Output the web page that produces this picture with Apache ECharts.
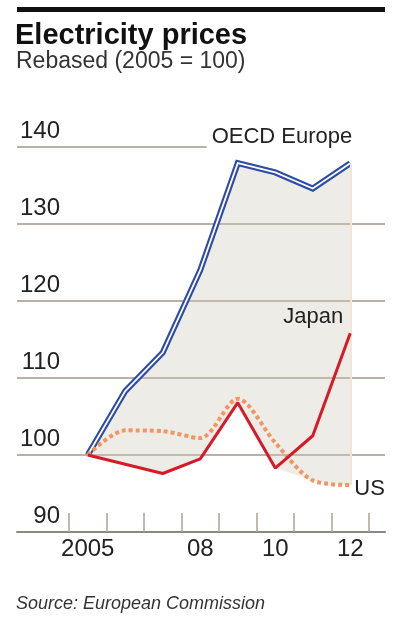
<!DOCTYPE html>
<html>
<head>
<meta charset="utf-8">
<script src="https://cdn.jsdelivr.net/npm/echarts@6/dist/echarts.min.js"></script>
<style>
html,body{margin:0;padding:0;background:#fff;}
#c{width:394px;height:621px;}
</style>
</head>
<body>
<div id="c"></div>
<script>
// ---- data ----
var years = ['2005','2006','2007','2008','2009','2010','2011','2012'];
var yearLabels = ['2005','','','08','','10','','12'];
var oecdEurope = [100, 108.3, 113.3, 124, 137.9, 136.7, 134.6, 137.9];
var japan = [100, 98.8, 97.6, 99.5, 106.8, 98.3, 102.5, 115.8];
var us = [100, 103.2, 103.1, 102.2, 107.3, 101.6, 96.7, 96.1];
var yTicks = [90, 100, 110, 120, 130, 140];

// band between highest and lowest series
var bandLow = years.map(function(_, i){ return Math.min(japan[i], us[i], oecdEurope[i]); });
var bandSpan = years.map(function(_, i){ return oecdEurope[i] - bandLow[i]; });

var FONT = 'Liberation Sans';
var chart = echarts.init(document.getElementById('c'), null, {renderer:'canvas'});
chart.setOption({
  animation: false,
  backgroundColor: '#fff',
  textStyle: {fontFamily: FONT},
  graphic: [{type:'rect', shape:{x:17, y:7, width:368, height:5}, style:{fill:'#111'}}],
  title: [
    {text:'Electricity prices', left:15, top:21, padding:0,
     textStyle:{fontFamily:FONT, fontWeight:'bold', fontSize:29, color:'#111'}},
    {text:'Rebased (2005 = 100)', left:16, top:50, padding:0,
     textStyle:{fontFamily:FONT, fontWeight:'normal', fontSize:23, color:'#333'}},
    {text:'Source: European Commission', left:16, top:595, padding:0,
     textStyle:{fontFamily:FONT, fontWeight:'normal', fontStyle:'italic', fontSize:18, color:'#333'}}
  ],
  grid: [
    {left:17, right:9, top:147, bottom:89},
    {left:69, right:25, top:147, bottom:89}
  ],
  xAxis: [
    {gridIndex:0, type:'value', min:0, max:1,
     axisLine:{show:true, lineStyle:{color:'#8c8780', width:2}},
     axisTick:{show:false}, axisLabel:{show:false}, splitLine:{show:false}},
    {gridIndex:1, type:'category', data:years, boundaryGap:true,
     axisLine:{show:false},
     axisTick:{show:true, inside:true, length:19, interval:0, lineStyle:{color:'#aaa39a', width:1.5}},
     axisLabel:{interval:0, margin:5, fontSize:24, color:'#222', fontFamily:FONT,
       formatter:function(v, i){ return yearLabels[i]; }},
     splitLine:{show:false}}
  ],
  yAxis: [
    {gridIndex:0, type:'value', min:yTicks[0], max:yTicks[yTicks.length-1], interval:10,
     axisLine:{show:false}, axisTick:{show:false},
     axisLabel:{inside:true, align:'right', verticalAlign:'bottom', margin:43,
       fontSize:24, color:'#222', fontFamily:FONT, padding:[0,0,4,0]},
     splitLine:{show:true, lineStyle:{color:'#bab1a6', width:2}}},
    {gridIndex:1, type:'value', min:yTicks[0], max:yTicks[yTicks.length-1], show:false}
  ],
  series: [
    {name:'bandLow', type:'line', xAxisIndex:1, yAxisIndex:1, stack:'band', data:bandLow,
     symbol:'none', lineStyle:{opacity:0}, silent:true, z:1},
    {name:'band', type:'line', xAxisIndex:1, yAxisIndex:1, stack:'band', data:bandSpan,
     symbol:'none', lineStyle:{opacity:0}, areaStyle:{color:'rgba(205,201,185,0.5)'}, silent:true, z:1},
    {name:'OECD Europe', type:'line', xAxisIndex:1, yAxisIndex:1, data:oecdEurope,
     symbol:'none', lineStyle:{color:'#2d4ba6', width:6, join:'miter'}, z:3,
     markLine:{silent:true, symbol:'none', label:{show:false},
       lineStyle:{color:'#f2e7d5', width:2, type:'solid'},
       data:[[{coord:[years[7], bandLow[7]]},{coord:[years[7], oecdEurope[7]]}]]},
     endLabel:{show:true, formatter:'OECD Europe', align:'right', verticalAlign:'middle',
       distance:0, offset:[35,-26], fontSize:22, color:'#222', fontFamily:FONT,
       backgroundColor:'#fff', padding:[0,33,4,5]}},
    {name:'OECD inner', type:'line', xAxisIndex:1, yAxisIndex:1, data:oecdEurope,
     symbol:'none', lineStyle:{color:'#fff', width:1.8, join:'miter'}, z:4},
    {name:'US', type:'line', xAxisIndex:1, yAxisIndex:1, data:us, smooth:0.3,
     symbol:'none', lineStyle:{color:'#f39463', width:4, type:[4,3], cap:'butt'}, z:5,
     endLabel:{show:true, formatter:'US', align:'left', verticalAlign:'middle',
       distance:0, offset:[4,4], fontSize:22, color:'#222', fontFamily:FONT}},
    {name:'Japan', type:'line', xAxisIndex:1, yAxisIndex:1, data:japan,
     symbol:'none', lineStyle:{color:'#d71a28', width:3}, z:6,
     endLabel:{show:true, formatter:'Japan', align:'right', verticalAlign:'middle',
       distance:0, offset:[-7,-16], fontSize:22, color:'#222', fontFamily:FONT}}
  ]
});
</script>
</body>
</html>
